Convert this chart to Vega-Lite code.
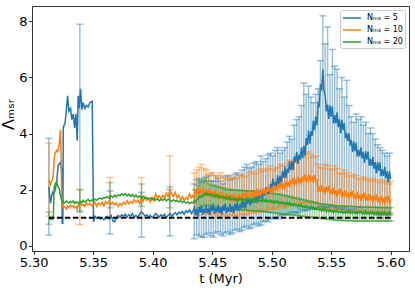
{
"$schema":"https://vega.github.io/schema/vega-lite/v6.json",
"width":377,"height":245,
"autosize":{"type":"none"},
"padding":{"left":32,"top":6,"right":6,"bottom":37},
"config":{
"font":"DejaVu Sans",
"view":{"stroke":"#333333","strokeWidth":1},
"axis":{"grid":false,"domain":false,"tickColor":"#333333","tickSize":3.5,"labelFontSize":13,"labelColor":"#000000","titleFontSize":13,"titleFontWeight":"normal","titleColor":"#000000"}
},
"datasets":{
"L":[
{"t":5.3128,"a":2.10,"b":2.35,"c":0.98},{"t":5.3135,"a":1.75,"b":2.25,"c":0.96},{"t":5.3142,"a":1.52,"b":2.17,"c":0.95},{"t":5.3150,"a":1.75,"b":2.30,"c":0.93},{"t":5.3159,"a":1.90,"b":2.35,"c":0.95},{"t":5.3165,"a":1.85,"b":2.55,"c":0.97},{"t":5.3172,"a":1.90,"b":3.05,"c":2.05},{"t":5.3179,"a":1.95,"b":3.30,"c":2.20},{"t":5.3186,"a":2.10,"b":3.35,"c":2.25},{"t":5.3193,"a":2.25,"b":3.40,"c":2.28},{"t":5.3200,"a":2.60,"b":3.35,"c":2.15},{"t":5.3207,"a":2.88,"b":3.45,"c":2.10},{"t":5.3214,"a":2.90,"b":3.60,"c":2.05},{"t":5.3220,"a":2.95,"b":3.90,"c":1.90},{"t":5.3226,"a":2.97,"b":4.13,"c":1.75},{"t":5.3231,"a":2.80,"b":3.00,"c":1.68},{"t":5.3235,"a":2.77,"b":1.80,"c":1.62},{"t":5.3240,"a":0.80,"b":1.45,"c":1.58},{"t":5.3245,"a":0.80,"b":1.40,"c":1.60},{"t":5.3249,"a":4.20,"b":1.35,"c":1.56},{"t":5.3256,"a":4.30,"b":1.40,"c":1.52},{"t":5.3263,"a":4.35,"b":1.38,"c":1.55},{"t":5.3274,"a":4.80,"b":1.30,"c":1.60},{"t":5.3285,"a":5.35,"b":1.42,"c":1.55},{"t":5.3296,"a":4.80,"b":1.35,"c":1.52},{"t":5.3310,"a":4.90,"b":1.45,"c":1.58},{"t":5.3321,"a":4.50,"b":1.38,"c":1.54},{"t":5.3333,"a":4.70,"b":1.42,"c":1.60},{"t":5.3344,"a":4.20,"b":1.35,"c":1.50},{"t":5.3355,"a":4.70,"b":1.40,"c":1.56},{"t":5.3366,"a":3.75,"b":1.30,"c":1.52},{"t":5.3374,"a":5.35,"b":1.45,"c":1.55},{"t":5.3383,"a":4.90,"b":1.40,"c":1.50},{"t":5.3394,"a":5.60,"b":1.50,"c":1.58},{"t":5.3405,"a":4.85,"b":1.45,"c":1.54},{"t":5.3416,"a":5.10,"b":1.48,"c":1.62},{"t":5.3430,"a":4.90,"b":1.40,"c":1.56},{"t":5.3444,"a":5.00,"b":1.52,"c":1.60},{"t":5.3458,"a":4.95,"b":1.45,"c":1.65},{"t":5.3472,"a":5.10,"b":1.50,"c":1.58},{"t":5.3492,"a":5.15,"b":1.42,"c":1.63},{"t":5.3503,"a":0.85,"b":1.48,"c":1.60},{"t":5.3515,"a":1.05,"b":1.55,"c":1.66},{"t":5.3530,"a":0.98,"b":1.40,"c":1.62},{"t":5.3545,"a":1.02,"b":1.52,"c":1.68},{"t":5.3560,"a":0.95,"b":1.45,"c":1.70},{"t":5.3575,"a":1.00,"b":1.55,"c":1.66},{"t":5.3590,"a":0.92,"b":1.42,"c":1.72},{"t":5.3605,"a":1.00,"b":1.58,"c":1.70},{"t":5.3620,"a":1.05,"b":1.50,"c":1.75},{"t":5.3635,"a":0.95,"b":1.60,"c":1.68},{"t":5.3650,"a":1.08,"b":1.48,"c":1.78},{"t":5.3665,"a":0.90,"b":1.55,"c":1.72},{"t":5.3680,"a":0.85,"b":1.45,"c":1.80},{"t":5.3695,"a":1.00,"b":1.52,"c":1.74},{"t":5.3710,"a":1.08,"b":1.40,"c":1.82},{"t":5.3725,"a":1.02,"b":1.50,"c":1.78},{"t":5.3740,"a":1.10,"b":1.45,"c":1.85},{"t":5.3755,"a":1.05,"b":1.55,"c":1.80},{"t":5.3770,"a":1.12,"b":1.48,"c":1.86},{"t":5.3785,"a":1.02,"b":1.60,"c":1.78},{"t":5.3800,"a":1.10,"b":1.50,"c":1.84},{"t":5.3815,"a":1.05,"b":1.58,"c":1.76},{"t":5.3830,"a":1.15,"b":1.52,"c":1.82},{"t":5.3845,"a":1.02,"b":1.65,"c":1.74},{"t":5.3860,"a":1.08,"b":1.55,"c":1.80},{"t":5.3875,"a":1.00,"b":1.62,"c":1.72},{"t":5.3890,"a":1.12,"b":1.50,"c":1.78},{"t":5.3905,"a":1.20,"b":1.70,"c":1.70},{"t":5.3920,"a":1.15,"b":1.58,"c":1.76},{"t":5.3935,"a":1.05,"b":1.75,"c":1.68},{"t":5.3950,"a":1.10,"b":1.62,"c":1.72},{"t":5.3965,"a":1.02,"b":1.68,"c":1.66},{"t":5.3980,"a":1.08,"b":1.55,"c":1.70},{"t":5.3995,"a":1.00,"b":1.72,"c":1.64},{"t":5.4010,"a":1.05,"b":1.60,"c":1.70},{"t":5.4025,"a":1.15,"b":1.85,"c":1.62},{"t":5.4040,"a":1.08,"b":1.70,"c":1.68},{"t":5.4055,"a":1.02,"b":1.78,"c":1.60},{"t":5.4070,"a":1.10,"b":1.65,"c":1.66},{"t":5.4085,"a":1.05,"b":1.80,"c":1.62},{"t":5.4100,"a":1.12,"b":1.70,"c":1.68},{"t":5.4115,"a":1.00,"b":1.88,"c":1.60},{"t":5.4130,"a":1.08,"b":1.75,"c":1.66},{"t":5.4145,"a":1.15,"b":2.00,"c":1.62},{"t":5.4160,"a":1.05,"b":1.85,"c":1.58},{"t":5.4175,"a":1.12,"b":1.75,"c":1.64},{"t":5.4190,"a":1.18,"b":1.90,"c":1.58},{"t":5.4205,"a":1.10,"b":1.70,"c":1.62},{"t":5.4220,"a":1.20,"b":1.80,"c":1.56},{"t":5.4235,"a":1.15,"b":1.62,"c":1.60},{"t":5.4250,"a":1.22,"b":1.75,"c":1.54},{"t":5.4265,"a":1.12,"b":1.60,"c":1.58},{"t":5.4280,"a":1.25,"b":1.72,"c":1.52},{"t":5.4295,"a":1.18,"b":1.65,"c":1.56},{"t":5.4310,"a":1.28,"b":1.85,"c":1.50},{"t":5.4325,"a":1.15,"b":1.70,"c":1.55},{"t":5.4340,"a":1.25,"b":1.80,"c":1.52},
{"t":5.435,"a":1.36,"b":1.69,"c":1.60},{"t":5.436,"a":1.08,"b":1.98,"c":1.55},{"t":5.437,"a":1.30,"b":1.84,"c":1.64},{"t":5.438,"a":1.04,"b":2.07,"c":1.64},{"t":5.439,"a":1.38,"b":1.80,"c":1.75},{"t":5.440,"a":1.19,"b":1.98,"c":1.72},{"t":5.441,"a":1.45,"b":1.84,"c":1.79},{"t":5.442,"a":1.10,"b":2.06,"c":1.74},{"t":5.443,"a":1.32,"b":1.82,"c":1.85},{"t":5.444,"a":1.16,"b":1.97,"c":1.81},
{"t":5.445,"a":1.44,"b":1.74,"c":1.90},{"t":5.446,"a":1.15,"b":2.00,"c":1.80},{"t":5.447,"a":1.37,"b":1.83,"c":1.84},{"t":5.448,"a":1.10,"b":2.03,"c":1.79},{"t":5.449,"a":1.44,"b":1.73,"c":1.85},{"t":5.450,"a":1.24,"b":1.88,"c":1.77},{"t":5.451,"a":1.49,"b":1.74,"c":1.81},{"t":5.452,"a":1.14,"b":1.96,"c":1.73},{"t":5.453,"a":1.35,"b":1.72,"c":1.82},{"t":5.454,"a":1.19,"b":1.87,"c":1.75},
{"t":5.455,"a":1.46,"b":1.64,"c":1.81},{"t":5.456,"a":1.17,"b":1.90,"c":1.71},{"t":5.457,"a":1.38,"b":1.73,"c":1.75},{"t":5.458,"a":1.11,"b":1.93,"c":1.71},{"t":5.459,"a":1.44,"b":1.63,"c":1.77},{"t":5.460,"a":1.24,"b":1.78,"c":1.69},{"t":5.461,"a":1.50,"b":1.65,"c":1.73},{"t":5.462,"a":1.15,"b":1.87,"c":1.66},{"t":5.463,"a":1.37,"b":1.64,"c":1.74},{"t":5.464,"a":1.21,"b":1.79,"c":1.67},
{"t":5.465,"a":1.49,"b":1.57,"c":1.74},{"t":5.466,"a":1.20,"b":1.83,"c":1.64},{"t":5.467,"a":1.42,"b":1.67,"c":1.68},{"t":5.468,"a":1.15,"b":1.87,"c":1.63},{"t":5.469,"a":1.49,"b":1.58,"c":1.70},{"t":5.470,"a":1.29,"b":1.73,"c":1.62},{"t":5.471,"a":1.56,"b":1.61,"c":1.67},{"t":5.472,"a":1.23,"b":1.85,"c":1.60},{"t":5.473,"a":1.46,"b":1.63,"c":1.69},{"t":5.474,"a":1.32,"b":1.80,"c":1.63},
{"t":5.475,"a":1.61,"b":1.59,"c":1.70},{"t":5.476,"a":1.34,"b":1.87,"c":1.61},{"t":5.477,"a":1.57,"b":1.72,"c":1.66},{"t":5.478,"a":1.32,"b":1.94,"c":1.62},{"t":5.479,"a":1.67,"b":1.66,"c":1.69},{"t":5.480,"a":1.49,"b":1.83,"c":1.62},{"t":5.481,"a":1.76,"b":1.71,"c":1.67},{"t":5.482,"a":1.43,"b":1.95,"c":1.59},{"t":5.483,"a":1.66,"b":1.73,"c":1.68},{"t":5.484,"a":1.52,"b":1.90,"c":1.62},
{"t":5.485,"a":1.81,"b":1.69,"c":1.69},{"t":5.486,"a":1.54,"b":1.97,"c":1.59},{"t":5.487,"a":1.77,"b":1.82,"c":1.64},{"t":5.488,"a":1.52,"b":2.04,"c":1.60},{"t":5.489,"a":1.87,"b":1.76,"c":1.66},{"t":5.490,"a":1.69,"b":1.93,"c":1.59},{"t":5.491,"a":1.98,"b":1.81,"c":1.64},{"t":5.492,"a":1.66,"b":2.05,"c":1.56},{"t":5.493,"a":1.91,"b":1.83,"c":1.65},{"t":5.494,"a":1.78,"b":2.00,"c":1.58},
{"t":5.495,"a":2.09,"b":1.79,"c":1.65},{"t":5.496,"a":1.83,"b":2.07,"c":1.56},{"t":5.497,"a":2.08,"b":1.92,"c":1.60},{"t":5.498,"a":1.84,"b":2.14,"c":1.56},{"t":5.499,"a":2.21,"b":1.86,"c":1.62},{"t":5.500,"a":2.02,"b":2.03,"c":1.55},{"t":5.501,"a":2.39,"b":1.92,"c":1.59},{"t":5.502,"a":1.97,"b":2.16,"c":1.52},{"t":5.503,"a":2.28,"b":1.95,"c":1.60},{"t":5.504,"a":2.12,"b":2.12,"c":1.54},
{"t":5.505,"a":2.51,"b":1.92,"c":1.60},{"t":5.506,"a":2.18,"b":2.20,"c":1.50},{"t":5.507,"a":2.49,"b":2.06,"c":1.55},{"t":5.508,"a":2.17,"b":2.28,"c":1.50},{"t":5.509,"a":2.65,"b":2.01,"c":1.57},{"t":5.510,"a":2.42,"b":2.18,"c":1.49},{"t":5.511,"a":2.81,"b":2.07,"c":1.53},{"t":5.512,"a":2.41,"b":2.31,"c":1.46},{"t":5.513,"a":2.74,"b":2.10,"c":1.54},{"t":5.514,"a":2.60,"b":2.27,"c":1.47},
{"t":5.515,"a":3.01,"b":2.07,"c":1.54},{"t":5.516,"a":2.69,"b":2.35,"c":1.44},{"t":5.517,"a":3.01,"b":2.21,"c":1.48},{"t":5.518,"a":2.70,"b":2.43,"c":1.43},{"t":5.519,"a":3.19,"b":2.16,"c":1.50},{"t":5.520,"a":2.97,"b":2.33,"c":1.42},{"t":5.521,"a":3.34,"b":2.21,"c":1.46},{"t":5.522,"a":2.92,"b":2.45,"c":1.39},{"t":5.523,"a":3.23,"b":2.23,"c":1.47},{"t":5.524,"a":3.07,"b":2.40,"c":1.40},
{"t":5.525,"a":3.51,"b":2.19,"c":1.47},{"t":5.526,"a":3.13,"b":2.47,"c":1.37},{"t":5.527,"a":3.56,"b":2.32,"c":1.41},{"t":5.528,"a":3.21,"b":2.54,"c":1.36},{"t":5.529,"a":3.84,"b":2.26,"c":1.43},{"t":5.530,"a":3.60,"b":2.43,"c":1.35},{"t":5.531,"a":4.11,"b":2.30,"c":1.39},{"t":5.532,"a":3.64,"b":2.53,"c":1.31},{"t":5.533,"a":4.08,"b":2.30,"c":1.40},{"t":5.534,"a":3.92,"b":2.46,"c":1.33},
{"t":5.535,"a":4.46,"b":2.24,"c":1.39},{"t":5.536,"a":4.12,"b":2.51,"c":1.29},{"t":5.537,"a":4.60,"b":2.35,"c":1.33},{"t":5.538,"a":4.29,"b":2.36,"c":1.29},{"t":5.539,"a":5.08,"b":1.92,"c":1.35},{"t":5.540,"a":5.00,"b":2.07,"c":1.27},{"t":5.541,"a":5.76,"b":1.93,"c":1.31},{"t":5.542,"a":5.54,"b":2.16,"c":1.24},{"t":5.543,"a":6.28,"b":1.92,"c":1.32},{"t":5.544,"a":5.52,"b":2.07,"c":1.26},
{"t":5.545,"a":5.36,"b":1.84,"c":1.32},{"t":5.546,"a":4.79,"b":2.10,"c":1.22},{"t":5.547,"a":5.03,"b":1.93,"c":1.27},{"t":5.548,"a":4.52,"b":2.13,"c":1.22},{"t":5.549,"a":5.00,"b":1.83,"c":1.29},{"t":5.550,"a":4.60,"b":1.98,"c":1.21},{"t":5.551,"a":4.97,"b":1.84,"c":1.26},{"t":5.552,"a":4.36,"b":2.06,"c":1.18},{"t":5.553,"a":4.66,"b":1.82,"c":1.27},{"t":5.554,"a":4.36,"b":1.97,"c":1.20},
{"t":5.555,"a":4.76,"b":1.74,"c":1.27},{"t":5.556,"a":4.23,"b":2.00,"c":1.18},{"t":5.557,"a":4.51,"b":1.83,"c":1.22},{"t":5.558,"a":4.01,"b":2.03,"c":1.18},{"t":5.559,"a":4.49,"b":1.73,"c":1.24},{"t":5.560,"a":4.12,"b":1.88,"c":1.17},{"t":5.561,"a":4.37,"b":1.74,"c":1.22},{"t":5.562,"a":3.83,"b":1.97,"c":1.15},{"t":5.563,"a":4.02,"b":1.73,"c":1.23},{"t":5.564,"a":3.74,"b":1.88,"c":1.17},
{"t":5.565,"a":4.01,"b":1.66,"c":1.24},{"t":5.566,"a":3.57,"b":1.92,"c":1.15},{"t":5.567,"a":3.77,"b":1.75,"c":1.20},{"t":5.568,"a":3.34,"b":1.95,"c":1.15},{"t":5.569,"a":3.71,"b":1.66,"c":1.22},{"t":5.570,"a":3.37,"b":1.81,"c":1.15},{"t":5.571,"a":3.67,"b":1.67,"c":1.20},{"t":5.572,"a":3.18,"b":1.90,"c":1.13},{"t":5.573,"a":3.42,"b":1.66,"c":1.22},{"t":5.574,"a":3.19,"b":1.82,"c":1.16},
{"t":5.575,"a":3.51,"b":1.59,"c":1.22},{"t":5.576,"a":3.11,"b":1.85,"c":1.13},{"t":5.577,"a":3.35,"b":1.69,"c":1.18},{"t":5.578,"a":2.96,"b":1.89,"c":1.14},{"t":5.579,"a":3.37,"b":1.60,"c":1.21},{"t":5.580,"a":3.07,"b":1.75,"c":1.14},{"t":5.581,"a":3.36,"b":1.61,"c":1.19},{"t":5.582,"a":2.86,"b":1.84,"c":1.12},{"t":5.583,"a":3.09,"b":1.60,"c":1.21},{"t":5.584,"a":2.85,"b":1.76,"c":1.15},
{"t":5.585,"a":3.16,"b":1.53,"c":1.21},{"t":5.586,"a":2.75,"b":1.79,"c":1.12},{"t":5.587,"a":2.98,"b":1.63,"c":1.17},{"t":5.588,"a":2.58,"b":1.83,"c":1.13},{"t":5.589,"a":2.98,"b":1.54,"c":1.20},{"t":5.590,"a":2.67,"b":1.69,"c":1.13},{"t":5.591,"a":2.97,"b":1.56,"c":1.18},{"t":5.592,"a":2.48,"b":1.78,"c":1.11},{"t":5.593,"a":2.72,"b":1.55,"c":1.20},{"t":5.594,"a":2.49,"b":1.70,"c":1.14},
{"t":5.595,"a":2.81,"b":1.48,"c":1.21},{"t":5.596,"a":2.41,"b":1.75,"c":1.12},{"t":5.597,"a":2.65,"b":1.58,"c":1.17},{"t":5.598,"a":2.26,"b":1.79,"c":1.13},{"t":5.599,"a":2.67,"b":1.49,"c":1.20},{"t":5.600,"a":2.37,"b":1.65,"c":1.13}
],
"E":[
{"t":5.3128,"s":"a","lo":0.38,"hi":3.83},{"t":5.3388,"s":"a","lo":1.2,"hi":7.9},{"t":5.3641,"s":"a","lo":0.42,"hi":1.95},{"t":5.3906,"s":"a","lo":0.3,"hi":1.9},{"t":5.4144,"s":"a","lo":0.35,"hi":2.0},
{"t":5.435,"s":"a","lo":0.25,"hi":2.2},{"t":5.439,"s":"a","lo":0.35,"hi":2.4},{"t":5.443,"s":"a","lo":0.3,"hi":2.3},{"t":5.447,"s":"a","lo":0.45,"hi":2.5},{"t":5.451,"s":"a","lo":0.3,"hi":2.3},{"t":5.455,"s":"a","lo":0.5,"hi":2.4},{"t":5.459,"s":"a","lo":0.35,"hi":2.2},{"t":5.463,"s":"a","lo":0.5,"hi":2.5},{"t":5.467,"s":"a","lo":0.45,"hi":2.4},{"t":5.471,"s":"a","lo":0.6,"hi":2.6},{"t":5.475,"s":"a","lo":0.55,"hi":2.7},{"t":5.479,"s":"a","lo":0.7,"hi":2.9},{"t":5.483,"s":"a","lo":0.65,"hi":2.8},{"t":5.487,"s":"a","lo":0.8,"hi":3.0},{"t":5.491,"s":"a","lo":0.75,"hi":3.2},{"t":5.495,"s":"a","lo":0.9,"hi":3.1},{"t":5.499,"s":"a","lo":0.95,"hi":3.3},{"t":5.503,"s":"a","lo":1.0,"hi":3.4},{"t":5.507,"s":"a","lo":1.05,"hi":3.3},{"t":5.511,"s":"a","lo":1.1,"hi":3.5},{"t":5.515,"s":"a","lo":1.15,"hi":3.9},{"t":5.519,"s":"a","lo":1.2,"hi":4.3},{"t":5.523,"s":"a","lo":1.2,"hi":4.6},{"t":5.527,"s":"a","lo":1.25,"hi":5.8},{"t":5.531,"s":"a","lo":1.3,"hi":5.7},{"t":5.535,"s":"a","lo":1.3,"hi":5.1},{"t":5.539,"s":"a","lo":1.35,"hi":5.6},{"t":5.543,"s":"a","lo":1.4,"hi":8.2},{"t":5.547,"s":"a","lo":1.35,"hi":7.8},{"t":5.551,"s":"a","lo":1.4,"hi":7.0},{"t":5.555,"s":"a","lo":1.35,"hi":6.3},{"t":5.559,"s":"a","lo":1.3,"hi":6.0},{"t":5.563,"s":"a","lo":1.3,"hi":5.9},{"t":5.567,"s":"a","lo":1.25,"hi":4.6},{"t":5.571,"s":"a","lo":1.2,"hi":4.7},{"t":5.575,"s":"a","lo":1.2,"hi":4.6},{"t":5.579,"s":"a","lo":1.2,"hi":4.4},{"t":5.583,"s":"a","lo":1.15,"hi":4.2},{"t":5.587,"s":"a","lo":1.15,"hi":3.8},{"t":5.591,"s":"a","lo":1.1,"hi":3.5},{"t":5.595,"s":"a","lo":1.1,"hi":3.3},{"t":5.599,"s":"a","lo":1.1,"hi":3.3},
{"t":5.437,"s":"a","lo":0.4,"hi":2.35},{"t":5.441,"s":"a","lo":0.3,"hi":2.25},{"t":5.445,"s":"a","lo":0.4,"hi":2.45},{"t":5.449,"s":"a","lo":0.35,"hi":2.3},{"t":5.453,"s":"a","lo":0.45,"hi":2.5},{"t":5.457,"s":"a","lo":0.4,"hi":2.3},{"t":5.461,"s":"a","lo":0.45,"hi":2.45},{"t":5.465,"s":"a","lo":0.4,"hi":2.35},{"t":5.469,"s":"a","lo":0.55,"hi":2.55},{"t":5.473,"s":"a","lo":0.5,"hi":2.5},{"t":5.477,"s":"a","lo":0.65,"hi":2.8},{"t":5.481,"s":"a","lo":0.6,"hi":2.75},{"t":5.485,"s":"a","lo":0.75,"hi":2.95},{"t":5.489,"s":"a","lo":0.7,"hi":2.9},{"t":5.493,"s":"a","lo":0.85,"hi":3.0},{"t":5.497,"s":"a","lo":0.85,"hi":3.25},{"t":5.501,"s":"a","lo":1.0,"hi":3.2},{"t":5.505,"s":"a","lo":0.95,"hi":3.5},{"t":5.509,"s":"a","lo":1.1,"hi":3.4},{"t":5.513,"s":"a","lo":1.1,"hi":3.7},{"t":5.517,"s":"a","lo":1.2,"hi":3.8},{"t":5.521,"s":"a","lo":1.15,"hi":4.5},{"t":5.525,"s":"a","lo":1.3,"hi":5.0},{"t":5.529,"s":"a","lo":1.25,"hi":5.4},{"t":5.533,"s":"a","lo":1.35,"hi":5.3},{"t":5.537,"s":"a","lo":1.3,"hi":5.4},{"t":5.541,"s":"a","lo":1.4,"hi":6.6},{"t":5.545,"s":"a","lo":1.35,"hi":7.2},{"t":5.549,"s":"a","lo":1.4,"hi":6.1},{"t":5.553,"s":"a","lo":1.35,"hi":6.4},{"t":5.557,"s":"a","lo":1.3,"hi":5.6},{"t":5.561,"s":"a","lo":1.35,"hi":5.3},{"t":5.565,"s":"a","lo":1.25,"hi":5.0},{"t":5.569,"s":"a","lo":1.3,"hi":4.4},{"t":5.573,"s":"a","lo":1.2,"hi":4.5},{"t":5.577,"s":"a","lo":1.25,"hi":4.3},{"t":5.581,"s":"a","lo":1.15,"hi":4.0},{"t":5.585,"s":"a","lo":1.2,"hi":4.0},{"t":5.589,"s":"a","lo":1.1,"hi":3.6},{"t":5.593,"s":"a","lo":1.15,"hi":3.4},{"t":5.597,"s":"a","lo":1.1,"hi":3.2},
{"t":5.3128,"s":"b","lo":1.05,"hi":3.65},{"t":5.3388,"s":"b","lo":0.75,"hi":2.0},{"t":5.3641,"s":"b","lo":1.0,"hi":2.43},{"t":5.3906,"s":"b","lo":1.0,"hi":2.43},{"t":5.4144,"s":"b","lo":1.1,"hi":3.2},
{"t":5.437,"s":"b","lo":1.1,"hi":2.7},{"t":5.441,"s":"b","lo":1.2,"hi":2.9},{"t":5.445,"s":"b","lo":1.15,"hi":2.7},{"t":5.449,"s":"b","lo":1.2,"hi":2.6},{"t":5.453,"s":"b","lo":1.1,"hi":2.5},{"t":5.457,"s":"b","lo":1.15,"hi":2.6},{"t":5.461,"s":"b","lo":1.05,"hi":2.4},{"t":5.465,"s":"b","lo":1.1,"hi":2.5},{"t":5.469,"s":"b","lo":1.05,"hi":2.4},{"t":5.473,"s":"b","lo":1.1,"hi":2.5},{"t":5.477,"s":"b","lo":1.1,"hi":2.45},{"t":5.481,"s":"b","lo":1.15,"hi":2.6},{"t":5.485,"s":"b","lo":1.2,"hi":2.55},{"t":5.489,"s":"b","lo":1.2,"hi":2.7},{"t":5.493,"s":"b","lo":1.25,"hi":2.65},{"t":5.497,"s":"b","lo":1.3,"hi":2.75},{"t":5.501,"s":"b","lo":1.3,"hi":2.7},{"t":5.505,"s":"b","lo":1.35,"hi":2.8},{"t":5.509,"s":"b","lo":1.4,"hi":2.85},{"t":5.513,"s":"b","lo":1.4,"hi":2.95},{"t":5.517,"s":"b","lo":1.45,"hi":3.0},{"t":5.521,"s":"b","lo":1.5,"hi":3.1},{"t":5.525,"s":"b","lo":1.5,"hi":3.2},{"t":5.529,"s":"b","lo":1.55,"hi":3.3},{"t":5.533,"s":"b","lo":1.5,"hi":3.25},{"t":5.537,"s":"b","lo":1.55,"hi":3.2},{"t":5.541,"s":"b","lo":1.3,"hi":2.8},{"t":5.545,"s":"b","lo":1.3,"hi":2.9},{"t":5.549,"s":"b","lo":1.25,"hi":2.75},{"t":5.553,"s":"b","lo":1.3,"hi":2.85},{"t":5.557,"s":"b","lo":1.25,"hi":2.6},{"t":5.561,"s":"b","lo":1.25,"hi":2.7},{"t":5.565,"s":"b","lo":1.25,"hi":2.5},{"t":5.569,"s":"b","lo":1.2,"hi":2.55},{"t":5.573,"s":"b","lo":1.25,"hi":2.4},{"t":5.577,"s":"b","lo":1.2,"hi":2.45},{"t":5.581,"s":"b","lo":1.2,"hi":2.35},{"t":5.585,"s":"b","lo":1.2,"hi":2.4},{"t":5.589,"s":"b","lo":1.2,"hi":2.3},{"t":5.593,"s":"b","lo":1.15,"hi":2.35},{"t":5.597,"s":"b","lo":1.15,"hi":2.25},{"t":5.600,"s":"b","lo":1.15,"hi":2.3},
{"t":5.435,"s":"b","lo":1.15,"hi":2.6},{"t":5.439,"s":"b","lo":1.1,"hi":2.8},{"t":5.443,"s":"b","lo":1.2,"hi":2.75},{"t":5.447,"s":"b","lo":1.1,"hi":2.55},{"t":5.451,"s":"b","lo":1.15,"hi":2.6},{"t":5.455,"s":"b","lo":1.05,"hi":2.45},{"t":5.459,"s":"b","lo":1.1,"hi":2.5},{"t":5.463,"s":"b","lo":1.0,"hi":2.35},{"t":5.467,"s":"b","lo":1.1,"hi":2.45},{"t":5.471,"s":"b","lo":1.05,"hi":2.4},{"t":5.475,"s":"b","lo":1.15,"hi":2.55},{"t":5.479,"s":"b","lo":1.1,"hi":2.5},{"t":5.483,"s":"b","lo":1.2,"hi":2.65},{"t":5.487,"s":"b","lo":1.15,"hi":2.6},{"t":5.491,"s":"b","lo":1.25,"hi":2.75},{"t":5.495,"s":"b","lo":1.25,"hi":2.7},{"t":5.499,"s":"b","lo":1.35,"hi":2.85},{"t":5.503,"s":"b","lo":1.3,"hi":2.75},{"t":5.507,"s":"b","lo":1.4,"hi":2.9},{"t":5.511,"s":"b","lo":1.35,"hi":2.85},{"t":5.515,"s":"b","lo":1.5,"hi":3.05},{"t":5.519,"s":"b","lo":1.45,"hi":3.0},{"t":5.523,"s":"b","lo":1.55,"hi":3.25},{"t":5.527,"s":"b","lo":1.5,"hi":3.15},{"t":5.531,"s":"b","lo":1.6,"hi":3.35},{"t":5.535,"s":"b","lo":1.5,"hi":3.15},{"t":5.539,"s":"b","lo":1.35,"hi":2.9},{"t":5.543,"s":"b","lo":1.25,"hi":2.75},{"t":5.547,"s":"b","lo":1.3,"hi":2.85},{"t":5.551,"s":"b","lo":1.25,"hi":2.7},{"t":5.555,"s":"b","lo":1.3,"hi":2.75},{"t":5.559,"s":"b","lo":1.2,"hi":2.55},{"t":5.563,"s":"b","lo":1.25,"hi":2.6},{"t":5.567,"s":"b","lo":1.2,"hi":2.45},{"t":5.571,"s":"b","lo":1.2,"hi":2.5},{"t":5.575,"s":"b","lo":1.25,"hi":2.35},{"t":5.579,"s":"b","lo":1.15,"hi":2.4},{"t":5.583,"s":"b","lo":1.2,"hi":2.3},{"t":5.587,"s":"b","lo":1.15,"hi":2.35},{"t":5.591,"s":"b","lo":1.2,"hi":2.25},{"t":5.595,"s":"b","lo":1.1,"hi":2.3},{"t":5.599,"s":"b","lo":1.15,"hi":2.2},
{"t":5.3128,"s":"c","lo":0.76,"hi":1.2},{"t":5.3388,"s":"c","lo":1.25,"hi":2.0},{"t":5.3641,"s":"c","lo":1.35,"hi":2.25},{"t":5.3906,"s":"c","lo":1.4,"hi":2.2},{"t":5.4144,"s":"c","lo":1.35,"hi":2.1},
{"t":5.436,"s":"c","lo":1.2,"hi":2.0},{"t":5.438,"s":"c","lo":1.3,"hi":2.15},{"t":5.440,"s":"c","lo":1.35,"hi":2.3},{"t":5.442,"s":"c","lo":1.4,"hi":2.35},{"t":5.444,"s":"c","lo":1.45,"hi":2.4},{"t":5.446,"s":"c","lo":1.45,"hi":2.3},{"t":5.448,"s":"c","lo":1.4,"hi":2.2},{"t":5.450,"s":"c","lo":1.4,"hi":2.15},{"t":5.452,"s":"c","lo":1.35,"hi":2.15},{"t":5.454,"s":"c","lo":1.35,"hi":2.1},{"t":5.456,"s":"c","lo":1.35,"hi":2.1},{"t":5.458,"s":"c","lo":1.3,"hi":2.05},{"t":5.460,"s":"c","lo":1.3,"hi":2.05},{"t":5.462,"s":"c","lo":1.3,"hi":2.0},{"t":5.464,"s":"c","lo":1.3,"hi":2.0},{"t":5.466,"s":"c","lo":1.28,"hi":2.0},{"t":5.468,"s":"c","lo":1.28,"hi":1.98},{"t":5.470,"s":"c","lo":1.27,"hi":1.98},{"t":5.472,"s":"c","lo":1.27,"hi":1.97},{"t":5.474,"s":"c","lo":1.27,"hi":1.97},{"t":5.476,"s":"c","lo":1.27,"hi":1.97},{"t":5.478,"s":"c","lo":1.26,"hi":1.96},{"t":5.480,"s":"c","lo":1.26,"hi":1.96},{"t":5.482,"s":"c","lo":1.25,"hi":1.95},{"t":5.484,"s":"c","lo":1.25,"hi":1.95},{"t":5.486,"s":"c","lo":1.24,"hi":1.94},{"t":5.488,"s":"c","lo":1.24,"hi":1.94},{"t":5.490,"s":"c","lo":1.23,"hi":1.93},{"t":5.492,"s":"c","lo":1.22,"hi":1.92},{"t":5.494,"s":"c","lo":1.21,"hi":1.91},{"t":5.496,"s":"c","lo":1.2,"hi":1.9},{"t":5.498,"s":"c","lo":1.19,"hi":1.89},{"t":5.500,"s":"c","lo":1.18,"hi":1.88},{"t":5.502,"s":"c","lo":1.17,"hi":1.86},{"t":5.504,"s":"c","lo":1.16,"hi":1.85},{"t":5.506,"s":"c","lo":1.15,"hi":1.83},{"t":5.508,"s":"c","lo":1.14,"hi":1.82},{"t":5.510,"s":"c","lo":1.13,"hi":1.8},{"t":5.512,"s":"c","lo":1.12,"hi":1.78},{"t":5.514,"s":"c","lo":1.11,"hi":1.76},{"t":5.516,"s":"c","lo":1.1,"hi":1.74},{"t":5.518,"s":"c","lo":1.09,"hi":1.72},{"t":5.520,"s":"c","lo":1.08,"hi":1.7},{"t":5.522,"s":"c","lo":1.07,"hi":1.68},{"t":5.524,"s":"c","lo":1.06,"hi":1.66},{"t":5.526,"s":"c","lo":1.05,"hi":1.64},{"t":5.528,"s":"c","lo":1.04,"hi":1.62},{"t":5.530,"s":"c","lo":1.03,"hi":1.6},{"t":5.532,"s":"c","lo":1.02,"hi":1.58},{"t":5.534,"s":"c","lo":1.01,"hi":1.56},{"t":5.536,"s":"c","lo":1.0,"hi":1.54},{"t":5.538,"s":"c","lo":0.99,"hi":1.52},{"t":5.540,"s":"c","lo":0.98,"hi":1.5},{"t":5.542,"s":"c","lo":0.97,"hi":1.49},{"t":5.544,"s":"c","lo":0.96,"hi":1.48},{"t":5.546,"s":"c","lo":0.95,"hi":1.47},{"t":5.548,"s":"c","lo":0.94,"hi":1.46},{"t":5.550,"s":"c","lo":0.93,"hi":1.45},{"t":5.552,"s":"c","lo":0.92,"hi":1.44},{"t":5.554,"s":"c","lo":0.91,"hi":1.43},{"t":5.556,"s":"c","lo":0.9,"hi":1.42},{"t":5.558,"s":"c","lo":0.9,"hi":1.42},{"t":5.560,"s":"c","lo":0.9,"hi":1.41},{"t":5.562,"s":"c","lo":0.89,"hi":1.41},{"t":5.564,"s":"c","lo":0.89,"hi":1.4},{"t":5.566,"s":"c","lo":0.89,"hi":1.4},{"t":5.568,"s":"c","lo":0.89,"hi":1.4},{"t":5.570,"s":"c","lo":0.88,"hi":1.39},{"t":5.572,"s":"c","lo":0.88,"hi":1.39},{"t":5.574,"s":"c","lo":0.88,"hi":1.38},{"t":5.576,"s":"c","lo":0.88,"hi":1.38},{"t":5.578,"s":"c","lo":0.88,"hi":1.38},{"t":5.580,"s":"c","lo":0.88,"hi":1.37},{"t":5.582,"s":"c","lo":0.88,"hi":1.37},{"t":5.584,"s":"c","lo":0.88,"hi":1.37},{"t":5.586,"s":"c","lo":0.88,"hi":1.37},{"t":5.588,"s":"c","lo":0.88,"hi":1.37},{"t":5.590,"s":"c","lo":0.88,"hi":1.36},{"t":5.592,"s":"c","lo":0.88,"hi":1.36},{"t":5.594,"s":"c","lo":0.88,"hi":1.36},{"t":5.596,"s":"c","lo":0.88,"hi":1.36},{"t":5.598,"s":"c","lo":0.88,"hi":1.36},{"t":5.600,"s":"c","lo":0.88,"hi":1.36}
]
},
"layer":[
{"data":{"name":"E"},
 "mark":{"type":"rule","strokeWidth":1.5,"opacity":0.45},
 "encoding":{
  "x":{"field":"t","type":"quantitative","title":"t (Myr)","scale":{"domain":[5.2986,5.6154],"nice":false,"zero":false},"axis":{"values":[5.30,5.35,5.40,5.45,5.50,5.55,5.60],"format":".2f","labelPadding":2,"titlePadding":3}},
  "y":{"field":"lo","type":"quantitative","title":"Λₘₛᵣ","scale":{"domain":[-0.19,8.55],"nice":false,"zero":false},"axis":{"values":[0,1,2,3,4,5,6,7,8],"labelPadding":1.5,"titlePadding":2,"titleFontSize":16,"titleY":108}},
  "y2":{"field":"hi"},
  "stroke":{"field":"s","type":"nominal","scale":{"domain":["a","b","c"],"range":["#1f77b4","#ff7f0e","#2ca02c"]},"legend":null}
 }},
{"data":{"name":"E"},
 "mark":{"type":"tick","orient":"horizontal","size":7,"thickness":1.5,"opacity":0.45},
 "encoding":{
  "x":{"field":"t","type":"quantitative","title":"t (Myr)"},
  "y":{"field":"lo","type":"quantitative","title":"Λₘₛᵣ"},
  "fill":{"field":"s","type":"nominal","scale":{"domain":["a","b","c"],"range":["#1f77b4","#ff7f0e","#2ca02c"]},"legend":null}
 }},
{"data":{"name":"E"},
 "mark":{"type":"tick","orient":"horizontal","size":7,"thickness":1.5,"opacity":0.45},
 "encoding":{
  "x":{"field":"t","type":"quantitative","title":"t (Myr)"},
  "y":{"field":"hi","type":"quantitative","title":"Λₘₛᵣ"},
  "fill":{"field":"s","type":"nominal","scale":{"domain":["a","b","c"],"range":["#1f77b4","#ff7f0e","#2ca02c"]},"legend":null}
 }},
{"data":{"name":"L"},
 "transform":[{"fold":["a","b","c"],"as":["s","v"]}],
 "mark":{"type":"line","strokeWidth":1.5},
 "encoding":{
  "x":{"field":"t","type":"quantitative","title":"t (Myr)"},
  "y":{"field":"v","type":"quantitative","title":"Λₘₛᵣ"},
  "color":{"field":"s","type":"nominal","scale":{"domain":["a","b","c"],"range":["#1f77b4","#ff7f0e","#2ca02c"]},"legend":{"orient":"none","legendX":308,"legendY":4,"title":null,"symbolType":"M-1,0H2.6","symbolSize":100,"symbolStrokeWidth":1.5,"labelFontSize":8,"labelOffset":13,"padding":2,"rowPadding":2,"strokeColor":"#cccccc","fillColor":"white","cornerRadius":2,"labelExpr":"datum.value == 'a' ? 'Nₘₛ = 5' : datum.value == 'b' ? 'Nₘₛ = 10' : 'Nₘₛ = 20'"}}
 }},
{"data":{"values":[{"t":5.3128,"t2":5.6,"y":1}]},
 "mark":{"type":"rule","strokeDash":[5.5,2.5],"strokeWidth":2,"color":"black"},
 "encoding":{
  "x":{"field":"t","type":"quantitative","title":"t (Myr)"},
  "x2":{"field":"t2"},
  "y":{"field":"y","type":"quantitative","title":"Λₘₛᵣ"}
 }}
],
"resolve":{"scale":{"color":"independent","stroke":"independent","fill":"independent"}}
}
